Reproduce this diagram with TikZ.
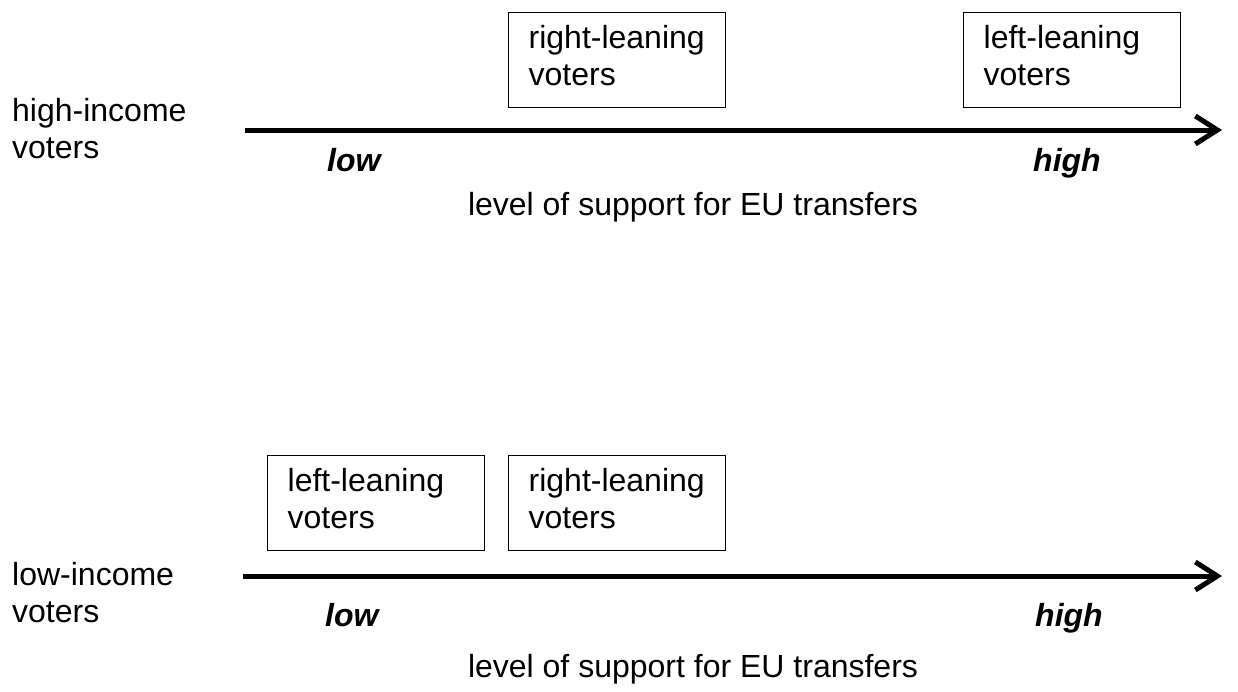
\documentclass[tikz,border=0pt]{standalone}
\usepackage{fontspec}
\setmainfont{Liberation Sans}
\usetikzlibrary{arrows.meta}
\newcommand{\lowstrut}{\rule[-9.4pt]{0pt}{0pt}}
\tikzset{
  txt/.style={font=\fontsize{32}{37}\selectfont, inner sep=0pt, align=left},
  ends/.style={font=\fontsize{32}{37}\selectfont\bfseries\itshape, inner sep=0pt},
  votebox/.style={draw, line width=1.3pt, font=\fontsize{32}{37}\selectfont, align=left,
    text width=177pt, inner xsep=20pt, inner ysep=0pt, minimum height=95pt,
    anchor=north west},
  axis/.style={line width=5pt, -{Straight Barb[length=22pt, width=28pt]}}
}
\begin{document}
\begin{tikzpicture}[x=1pt, y=-1pt]
\useasboundingbox (0,0) rectangle (1238,691);
% top panel
\node[txt, anchor=base west] (hi) at (12,158) {high-income\\voters};
\coordinate (a1s) at (245,130);
\coordinate (a1e) at (1222,130);
\draw[axis] (a1s) -- (a1e);
\node[votebox] (r1) at (508,12) {right-leaning\\voters\lowstrut};
\node[votebox] (l1) at (963,12) {left-leaning\\voters\lowstrut};
\node[ends, anchor=base west] (low1) at (327,171) {low};
\node[ends, anchor=base west] (high1) at (1033,171) {high};
\node[txt, anchor=base] (lab1) at (693,215) {level of support for EU transfers};
% bottom panel
\node[txt, anchor=base west] (lo) at (12,622) {low-income\\voters};
\coordinate (a2s) at (243,576);
\coordinate (a2e) at (1222,576);
\draw[axis] (a2s) -- (a2e);
\node[votebox] (l2) at (267,455) {left-leaning\\voters\lowstrut};
\node[votebox] (r2) at (508,455) {right-leaning\\voters\lowstrut};
\node[ends, anchor=base west] (low2) at (325,626) {low};
\node[ends, anchor=base west] (high2) at (1035,626) {high};
\node[txt, anchor=base] (lab2) at (693,677) {level of support for EU transfers};
\end{tikzpicture}
\end{document}
